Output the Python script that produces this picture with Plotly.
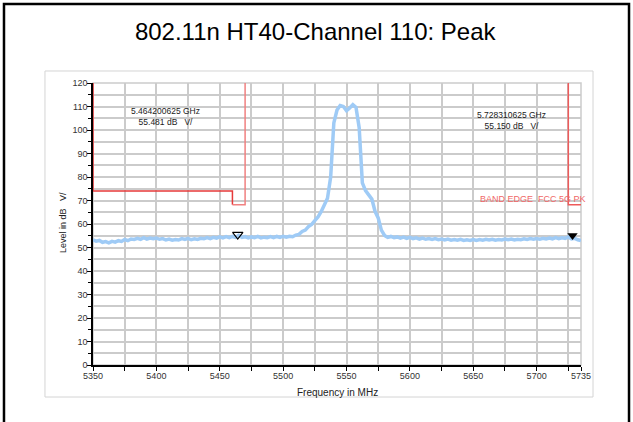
import numpy as np
import plotly.graph_objects as go

# ---------------- data ----------------
freq_start, freq_step, freq_stop = 5350.0, 2.5, 5735.0
freq_mhz = np.arange(freq_start, freq_stop + 0.01, freq_step)

level_dbuv = [
    # 5350 - 5400
    53.3, 52.7, 53.0, 52.2, 52.5, 52.0, 52.6, 52.3, 52.9, 52.6, 53.4, 52.9, 53.6, 53.4, 53.9, 53.5, 54.2, 53.6, 54.0, 53.7, 54.0,
    # 5402.5 - 5450
    53.5, 53.8, 53.2, 53.6, 53.1, 53.4, 53.2, 53.8, 53.4, 53.9, 53.3, 53.7, 53.4, 53.9, 53.7, 54.2, 53.8, 54.3, 54.0, 54.5,
    # 5452.5 - 5500
    54.1, 54.6, 54.2, 54.7, 54.3, 55.2, 54.3, 54.6, 54.1, 54.5, 54.2, 54.7, 54.1, 54.4, 54.2, 54.6, 54.2, 54.7, 54.3, 54.8,
    # 5502.5 - 5550
    54.4, 54.8, 54.6, 55.3, 55.6, 56.8, 57.4, 58.9, 59.8, 61.4, 63.0, 65.2, 67.8, 71.0, 80.0, 103.0, 108.5, 110.4, 110.0, 108.2,
    # 5552.5 - 5600
    109.4, 110.8, 109.6, 101.0, 77.5, 74.2, 72.4, 70.6, 65.4, 62.6, 57.4, 55.1, 54.3, 54.7, 54.2, 54.5, 54.0, 54.4, 53.9, 54.3,
    # 5602.5 - 5650
    53.8, 54.1, 53.6, 54.0, 53.5, 53.8, 53.4, 53.8, 53.3, 53.6, 53.2, 53.6, 53.1, 53.4, 53.1, 53.5, 53.0, 53.3, 53.0, 53.4,
    # 5652.5 - 5700
    53.0, 53.4, 53.1, 53.5, 53.2, 53.5, 53.1, 53.4, 53.2, 53.6, 53.3, 53.6, 53.2, 53.5, 53.3, 53.7, 53.4, 53.8, 53.5, 53.8,
    # 5702.5 - 5735
    53.5, 53.9, 53.6, 54.0, 53.7, 54.2, 53.8, 54.1, 53.9, 54.5, 53.7, 53.9, 53.3, 52.9,
]

# limit lines (band edge FCC 5G PK)
limit_lo_freq = [5350, 5350, 5460, 5460]
limit_lo_level = [120, 74, 74, 68.2]
limit_lo2_freq = [5460, 5470, 5470]
limit_lo2_level = [68.2, 68.2, 120]
limit_hi_freq = [5725, 5725, 5735]
limit_hi_level = [120, 68.2, 68.2]

# markers
marker1_freq, marker1_level = 5464.200625, 55.481
marker2_freq, marker2_level = 5728.310625, 55.150
marker1_text = "5.464200625 GHz<br>55.481 dB   V/"
marker2_text = "5.728310625 GHz<br>55.150 dB   V/"

x_tick_vals = [5350, 5400, 5450, 5500, 5550, 5600, 5650, 5700, 5735]
x_tick_text = [str(v) for v in x_tick_vals]

title_text = "802.11n HT40-Channel 110: Peak"
limit_label = "BAND EDGE  FCC 5G PK"

# ---------------- figure ----------------
FONT = "Liberation Sans, Arial, sans-serif"
GRID = "#cbcbcb"

fig = go.Figure()

fig.add_trace(go.Scatter(x=freq_mhz, y=level_dbuv, mode="lines",
                         line=dict(color="#9fcbf6", width=3.5), hoverinfo="skip"))

fig.add_trace(go.Scatter(x=limit_lo_freq, y=limit_lo_level, mode="lines",
                         line=dict(color="#e63a3a", width=1.5)))
fig.add_trace(go.Scatter(x=limit_lo2_freq, y=limit_lo2_level, mode="lines",
                         line=dict(color="#f08080", width=1.5)))
fig.add_trace(go.Scatter(x=limit_hi_freq, y=limit_hi_level, mode="lines",
                         line=dict(color="#ee5a5a", width=1.5)))

fig.add_trace(go.Scatter(x=[marker1_freq], y=[marker1_level], mode="markers",
                         marker=dict(symbol="triangle-down-open", size=9,
                                     color="black", line=dict(width=1.2, color="black"))))
fig.add_trace(go.Scatter(x=[marker2_freq], y=[marker2_level], mode="markers",
                         marker=dict(symbol="triangle-down", size=9, color="black")))

# marker readouts
fig.add_annotation(x=5407.5, y=105.7, text=marker1_text, showarrow=False,
                   xanchor="center", yanchor="middle",
                   font=dict(size=8.5, color="#222", family=FONT), align="center")
fig.add_annotation(x=5680.5, y=104.2, text=marker2_text, showarrow=False,
                   xanchor="center", yanchor="middle",
                   font=dict(size=8.5, color="#222", family=FONT), align="center")
fig.add_annotation(xref="paper", x=1.0143, y=70.6, text=limit_label, showarrow=False,
                   xanchor="right", yanchor="middle", font=dict(size=9, color="#f06868", family=FONT))

# axis titles
fig.add_annotation(xref="paper", yref="paper", x=0.5, y=-0.096, text="Frequency in MHz",
                   xanchor="center", yanchor="middle",
                   showarrow=False, font=dict(size=10, color="#222", family=FONT))
fig.add_annotation(xref="paper", yref="paper", x=-0.0615, y=0.507, text="Level in dB   V/",
                   xanchor="center", yanchor="middle",
                   textangle=-90, showarrow=False, font=dict(size=9, color="#222", family=FONT))

# panel and outer frame
fig.add_shape(type="rect", xref="paper", yref="paper", x0=-0.0984, x1=1.0246, y0=-0.1135, y1=1.0426,
              line=dict(color="#d4d4d4", width=1), layer="below")
fig.add_shape(type="rect", xref="paper", yref="paper", x0=-0.1824, x1=1.0984, y0=-0.3, y1=1.2801,
              line=dict(color="black", width=2.5), layer="below")
# plot border (top/right)
fig.add_shape(type="rect", xref="paper", yref="paper", x0=0, x1=1, y0=0, y1=1,
              line=dict(color=GRID, width=1.5), layer="below")

fig.update_layout(
    width=633, height=422,
    margin=dict(l=93, r=52, t=83, b=57),
    paper_bgcolor="white", plot_bgcolor="white",
    showlegend=False,
    font=dict(family=FONT, size=9, color="#333"),
    title=dict(text=title_text, x=0.498, xanchor="center", xref="container", y=1 - 32 / 422, yref="container",
               yanchor="middle", font=dict(size=24, color="black", family=FONT)),
)

fig.update_xaxes(
    range=[freq_start, freq_stop], tickmode="array", tickvals=x_tick_vals, ticktext=x_tick_text,
    showgrid=True, gridcolor=GRID, gridwidth=1.5,
    ticks="outside", ticklen=4, tickcolor="black", tickwidth=1.2,
    showline=True, linecolor="black", linewidth=1.5, zeroline=False,
    tickfont=dict(size=9, color="#333"), ticklabelstandoff=-3,
    minor=dict(tickmode="linear", tick0=5350, dtick=25, showgrid=True, gridcolor=GRID, gridwidth=1.5,
               ticks="outside", ticklen=4, tickcolor="black"),
    layer="below traces",
)
fig.update_yaxes(
    range=[0, 120], tickmode="linear", tick0=0, dtick=10,
    showgrid=True, gridcolor=GRID, gridwidth=1.5,
    ticks="outside", ticklen=4, tickcolor="black", tickwidth=1.2,
    showline=True, linecolor="black", linewidth=1.5, zeroline=False,
    tickfont=dict(size=9, color="#333"), ticklabelstandoff=-2,
    minor=dict(tickmode="linear", tick0=0, dtick=5, showgrid=True, gridcolor=GRID, gridwidth=1.5,
               ticks="outside", ticklen=3, tickcolor="black"),
    layer="below traces",
)

fig.write_html("out.html")
